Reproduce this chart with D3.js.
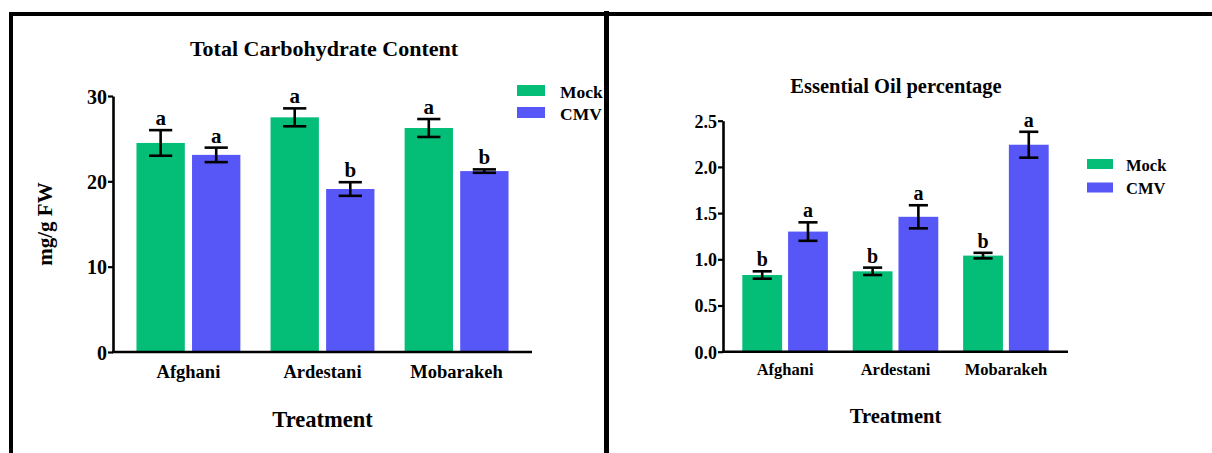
<!DOCTYPE html>
<html>
<head>
<meta charset="utf-8">
<script src="https://cdn.jsdelivr.net/npm/d3@7"></script>
<style>
  html, body { margin: 0; padding: 0; background: #fff; }
  svg { display: block; }
  text { font-family: "Liberation Serif", "Times New Roman", serif !important; font-weight: bold; fill: #000; }
</style>
</head>
<body>
<svg id="fig" width="1212" height="453"></svg>
<script>
// Cultivars and treatments
const cultivars = ["Afghani", "Ardestani", "Mobarakeh"];
const treatments = ["Mock", "CMV"];

// Total carbohydrate content (mg/g FW): means, error and letters
const carbMock = [24.5, 27.5, 26.25];
const carbMockErr = [1.5, 1.05, 1.05];
const carbCMV = [23.1, 19.1, 21.2];
const carbCMVErr = [0.85, 0.8, 0.2];
const carbMockLetters = ["a", "a", "a"];
const carbCMVLetters = ["a", "b", "b"];
const carbTicks = [0, 10, 20, 30];

// Essential oil percentage: means, error and letters
const oilMock = [0.83, 0.87, 1.04];
const oilMockErr = [0.04, 0.04, 0.03];
const oilCMV = [1.30, 1.46, 2.24];
const oilCMVErr = [0.10, 0.125, 0.14];
const oilMockLetters = ["b", "b", "b"];
const oilCMVLetters = ["a", "a", "a"];
const oilTicks = [0, 0.5, 1.0, 1.5, 2.0, 2.5];

const colors = { Mock: "#04be78", CMV: "#5757f7" };
const FONT = "Liberation Serif, Times New Roman, serif";

const svg = d3.select("#fig");

// Clip for the left panel so its legend is cut at the divider
svg.append("defs").append("clipPath").attr("id", "leftClip")
  .append("rect").attr("x", 0).attr("y", 0).attr("width", 604).attr("height", 453);

function rows(mock, mockErr, mockLet, cmv, cmvErr, cmvLet) {
  return cultivars.map((c, i) => ({
    cultivar: c,
    bars: [
      { t: "Mock", v: mock[i], e: mockErr[i], l: mockLet[i] },
      { t: "CMV", v: cmv[i], e: cmvErr[i], l: cmvLet[i] }
    ]
  }));
}

function drawPanel(g, cfg) {
  const x0 = d3.scaleBand().domain(cultivars)
    .range([cfg.left, cfg.right]).paddingInner(0.225).paddingOuter(0.175);
  const x1 = d3.scaleBand().domain(treatments)
    .range([0, x0.bandwidth()]).paddingInner(0.13).paddingOuter(0);
  const y = d3.scaleLinear().domain(cfg.domain).range([cfg.bottom, cfg.top]);

  // title
  g.append("text").attr("x", cfg.titleX).attr("y", cfg.titleY)
    .attr("text-anchor", "middle").style("font-size", cfg.titleSize + "px").text(cfg.title);

  // bars
  const grp = g.selectAll("g.grp").data(cfg.data).join("g")
    .attr("class", "grp").attr("transform", d => `translate(${x0(d.cultivar)},0)`);
  grp.selectAll("rect").data(d => d.bars).join("rect")
    .attr("x", d => x1(d.t)).attr("width", x1.bandwidth())
    .attr("y", d => y(d.v)).attr("height", d => y(0) - y(d.v))
    .attr("fill", d => colors[d.t]);

  // error bars
  const capW = x1.bandwidth() * cfg.cap;
  const cx = d => x1(d.t) + x1.bandwidth() / 2;
  const eb = grp.selectAll("g.err").data(d => d.bars).join("g").attr("class", "err")
    .attr("stroke", "#000").attr("stroke-width", 2.6).attr("fill", "none");
  eb.append("line").attr("x1", cx).attr("x2", cx)
    .attr("y1", d => y(d.v + d.e)).attr("y2", d => y(d.v - d.e));
  eb.append("line")
    .attr("x1", d => cx(d) - capW / 2).attr("x2", d => cx(d) + capW / 2)
    .attr("y1", d => y(d.v + d.e)).attr("y2", d => y(d.v + d.e));
  eb.append("line")
    .attr("x1", d => cx(d) - capW / 2).attr("x2", d => cx(d) + capW / 2)
    .attr("y1", d => y(d.v - d.e)).attr("y2", d => y(d.v - d.e));

  // significance letters
  grp.selectAll("text.let").data(d => d.bars).join("text").attr("class", "let")
    .attr("x", cx).attr("y", d => y(d.v + d.e) - 5)
    .attr("text-anchor", "middle").style("font-size", cfg.letterSize + "px").text(d => d.l);

  // y axis
  const yAxis = d3.axisLeft(y).tickValues(cfg.ticks).tickSize(5).tickSizeOuter(0).tickFormat(cfg.fmt);
  const ya = g.append("g").attr("transform", `translate(${cfg.left},0)`).call(yAxis)
    .attr("font-family", FONT).attr("font-size", cfg.tickSize);
  ya.select(".domain").attr("stroke-width", 2.6);
  ya.selectAll(".tick line").attr("stroke-width", 2.2);
  ya.selectAll(".tick text").attr("x", -6).attr("dy", "0.35em")
    .style("font-size", cfg.tickSize + "px").style("font-weight", "bold");

  // x axis line and category labels
  const xAxis = d3.axisBottom(x0).tickSize(0).tickSizeOuter(0);
  const xa = g.append("g").attr("transform", `translate(0,${cfg.bottom})`).call(xAxis)
    .attr("font-family", FONT).attr("font-size", cfg.catSize);
  xa.select(".domain").attr("stroke-width", 2.6).attr("d", `M${cfg.left - 1},0H${cfg.right}`);
  xa.selectAll(".tick text").attr("y", cfg.catY - cfg.bottom).attr("dy", 0)
    .style("font-size", cfg.catSize + "px").style("font-weight", "bold");

  // axis titles
  g.append("text").attr("x", (cfg.left + cfg.right) / 2).attr("y", cfg.xTitleY)
    .attr("text-anchor", "middle").style("font-size", cfg.xTitleSize + "px").text("Treatment");
  if (cfg.yTitle) {
    g.append("text").attr("transform", `translate(${cfg.yTitleX},${(cfg.top + cfg.bottom) / 2}) rotate(-90)`)
      .attr("text-anchor", "middle").attr("dy", "0.35em")
      .style("font-size", cfg.yTitleSize + "px").text(cfg.yTitle);
  }

  // legend
  const lg = g.selectAll("g.leg").data(treatments).join("g").attr("class", "leg")
    .attr("transform", (d, i) => `translate(${cfg.legX},${cfg.legY + i * cfg.legStep})`);
  lg.append("rect").attr("width", cfg.swW).attr("height", cfg.swH).attr("fill", d => colors[d]);
  lg.append("text").attr("x", cfg.legTextDx).attr("y", cfg.swH + 1.5)
    .style("font-size", cfg.legSize + "px").text(d => d);
}

// Left panel: total carbohydrate content
const left = svg.append("g").attr("clip-path", "url(#leftClip)");
drawPanel(left, {
  data: rows(carbMock, carbMockErr, carbMockLetters, carbCMV, carbCMVErr, carbCMVLetters),
  left: 113, right: 532, top: 96, bottom: 352, domain: [0, 30], ticks: carbTicks, fmt: d3.format("d"),
  title: "Total Carbohydrate Content", titleX: 324, titleY: 56, titleSize: 22,
  cap: 0.48, letterSize: 21, tickSize: 20, catY: 378, catSize: 18.5,
  xTitleY: 427, xTitleSize: 22.5, yTitle: "mg/g FW", yTitleX: 45, yTitleSize: 21,
  legX: 517, legY: 85, legStep: 22, swW: 28, swH: 11, legTextDx: 43, legSize: 17.5
});

// Right panel: essential oil percentage
const right = svg.append("g");
drawPanel(right, {
  data: rows(oilMock, oilMockErr, oilMockLetters, oilCMV, oilCMVErr, oilCMVLetters),
  left: 723, right: 1068, top: 120.7, bottom: 351.7, domain: [0, 2.5], ticks: oilTicks, fmt: d3.format(".1f"),
  title: "Essential Oil percentage", titleX: 896, titleY: 93, titleSize: 20.5,
  cap: 0.48, letterSize: 20, tickSize: 18, catY: 375, catSize: 16.5,
  xTitleY: 423, xTitleSize: 20.5, yTitle: null,
  legX: 1087, legY: 159, legStep: 23.5, swW: 26, swH: 10, legTextDx: 39, legSize: 16.5
});

// Panel frames
const frame = svg.append("g").attr("stroke", "#000").attr("fill", "none");
frame.append("path").attr("stroke-width", 4).attr("d", "M11,460V14H606");
frame.append("path").attr("stroke-width", 4).attr("d", "M606,14H1212");
frame.append("line").attr("stroke-width", 5).attr("x1", 606.5).attr("x2", 606.5).attr("y1", 11).attr("y2", 460);
</script>
</body>
</html>
